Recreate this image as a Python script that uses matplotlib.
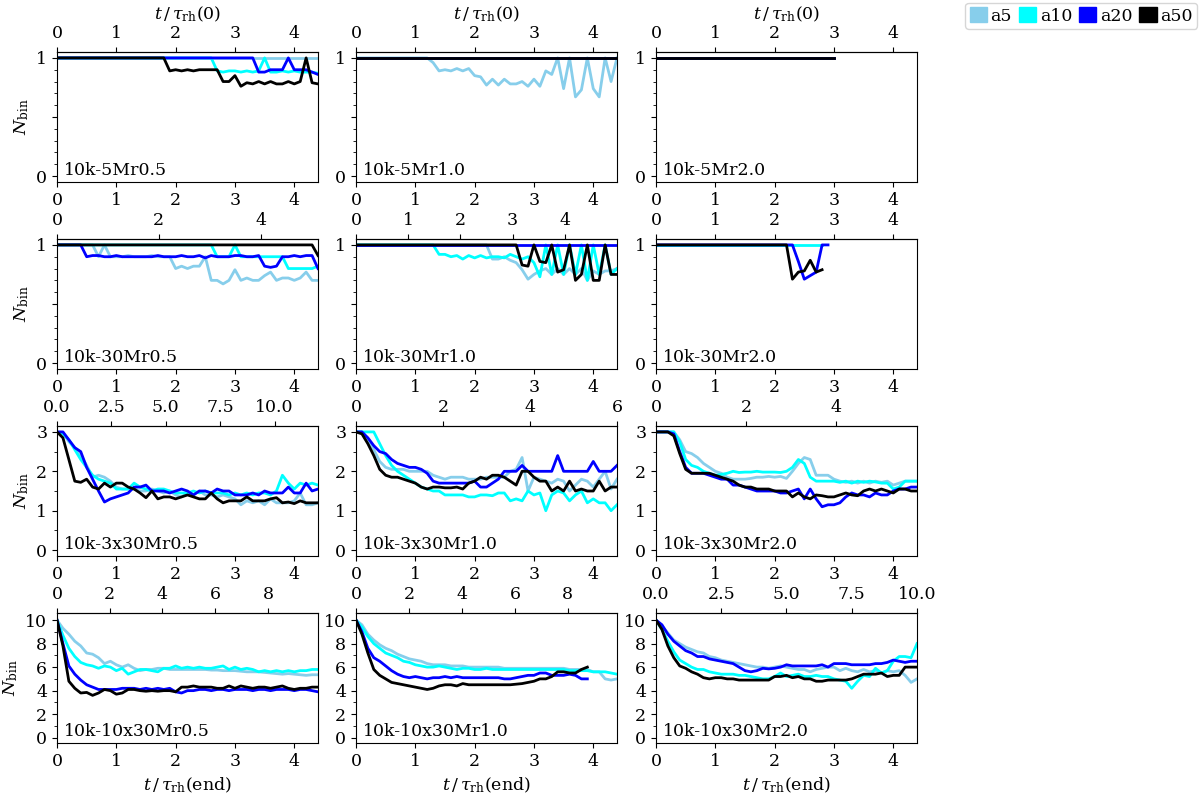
import numpy as np
import matplotlib
matplotlib.use('Agg')
import matplotlib.pyplot as plt
from matplotlib.patches import Patch
from matplotlib.ticker import MultipleLocator

plt.rcParams['font.family'] = ['DejaVu Serif']
plt.rcParams['mathtext.fontset'] = 'dejavuserif'
plt.rcParams['font.size'] = 12.5

# time grid in units of t/tau_rh(end), one sample every 0.1
T = np.round(np.arange(0, 4.45, 0.1), 2)

labels = ['a5', 'a10', 'a20', 'a50']
colors = ['#87ceeb', '#00ffff', '#0000ff', '#000000']

names = [['10k-5Mr0.5', '10k-5Mr1.0', '10k-5Mr2.0'],
         ['10k-30Mr0.5', '10k-30Mr1.0', '10k-30Mr2.0'],
         ['10k-3x30Mr0.5', '10k-3x30Mr1.0', '10k-3x30Mr2.0'],
         ['10k-10x30Mr0.5', '10k-10x30Mr1.0', '10k-10x30Mr2.0']]

# top axis: t/tau_rh(0) = factor * t/tau_rh(end)
top_factor = [[1.0, 1.0, 1.0],
              [1.165, 1.136, 1.0],
              [2.727, 1.364, 1.32],
              [2.25, 2.24, 2.273]]
top_ticks = [[[0, 1, 2, 3, 4], [0, 1, 2, 3, 4], [0, 1, 2, 3, 4]],
             [[0, 2, 4], [0, 1, 2, 3, 4], [0, 1, 2, 3, 4]],
             [[0, 2.5, 5.0, 7.5, 10.0], [0, 2, 4, 6], [0, 2, 4]],
             [[0, 2, 4, 6, 8], [0, 2, 4, 6, 8], [0, 2.5, 5.0, 7.5, 10.0]]]

# ---- row 1: 10k-5M
r1c1_a5 = [1.0] * 45
r1c1_a10 = [1.0] * 27 + [0.89, 0.88, 0.89, 0.89, 0.88, 0.89, 0.88, 0.89, 1.0, 0.88,
                         0.88, 0.89, 0.88, 0.89, 0.88, 0.88, 0.88, 0.87]
r1c1_a20 = [1.0] * 34 + [0.88, 0.88, 0.9, 0.9, 0.9, 1.0, 0.9, 0.9, 0.9, 0.88, 0.86]
r1c1_a50 = [1.0] * 19 + [0.89, 0.9, 0.89, 0.9, 0.89, 0.9, 0.9, 0.9, 0.9,
                         0.8, 0.8, 0.85, 0.76, 0.79, 0.78, 0.8, 0.78, 0.8, 0.78,
                         0.78, 0.8, 0.78, 0.8, 1.0, 0.79, 0.78]

r1c2_a5 = [1.0] * 13 + [0.96, 0.89, 0.9, 0.89, 0.91, 0.89, 0.91, 0.85, 0.84, 0.77,
                        0.82, 0.77, 0.82, 0.78, 0.78, 0.8, 0.76, 0.82, 0.76, 0.89,
                        0.86, 1.0, 0.74, 1.0, 0.67, 0.73, 1.0, 0.74, 0.67, 1.0,
                        0.8, 1.0]
r1c2_a10 = [1.0] * 45
r1c2_a20 = [1.0] * 45
r1c2_a50 = [1.0] * 45

r1c3_a5 = [1.0] * 31
r1c3_a10 = [1.0] * 31
r1c3_a20 = [1.0] * 31
r1c3_a50 = [1.0] * 31

# ---- row 2: 10k-30M
r2c1_a5 = [1.0] * 7 + [0.9, 1.0, 0.9, 0.9, 0.9, 0.91, 0.9, 0.9, 0.9, 0.91, 0.9, 0.9, 0.9,
                       0.8, 0.82, 0.8, 0.82, 0.82, 0.9, 0.7, 0.7, 0.67, 0.7, 0.79, 0.7,
                       0.72, 0.7, 0.7, 0.74, 0.77, 0.7, 0.72, 0.72, 0.7, 0.72, 0.77, 0.7, 0.7]
r2c1_a10 = [1.0] * 27 + [0.9, 0.9, 0.9, 1.0, 0.9, 0.9, 0.9, 0.9, 0.9, 0.9, 0.9, 0.9,
                         0.8, 0.8, 0.8, 0.8, 0.8, 0.82]
r2c1_a20 = [1.0] * 5 + [0.9, 0.91, 0.91, 0.9, 0.9, 0.91, 0.9, 0.9, 0.9, 0.9, 0.9, 0.9,
                        0.91, 0.9, 0.9, 0.9, 0.91, 0.9, 0.9, 0.91, 0.89, 0.91, 0.9, 0.9,
                        0.9, 0.91, 0.91, 0.9, 0.9, 0.91,
                        0.82, 0.81, 0.82, 0.9, 0.9, 0.91, 0.9, 0.91, 0.91, 0.8]
r2c1_a50 = [1.0] * 44 + [0.91]

r2c2_a5 = [1.0] * 23 + [0.88, 0.88, 0.9, 0.87, 0.85, 0.79, 0.71, 0.75, 0.78, 0.8, 0.75,
                        0.8, 0.75, 0.8, 0.75, 0.8, 0.7, 0.78, 0.75, 0.78, 0.78, 0.8]
r2c2_a10 = [1.0] * 14 + [0.92, 0.92, 0.9, 0.91, 0.88, 0.91, 0.89, 0.91, 0.89, 0.9, 0.9,
                         0.89, 0.92, 0.9, 0.88, 0.9, 0.85,
                         0.73, 1.0, 0.75, 1.0, 0.75, 1.0, 0.75, 1.0, 0.7, 1.0, 0.75,
                         1.0, 0.75, 0.8]
r2c2_a20 = [1.0] * 45
r2c2_a50 = [1.0] * 28 + [0.83, 0.82, 1.0, 0.86, 0.85, 1.0, 0.77, 0.79, 1.0, 0.7, 0.75,
                         1.0, 0.7, 0.7, 1.0, 0.75, 0.75]

r2c3_a5 = [1.0] * 25
r2c3_a10 = [1.0] * 29
r2c3_a20 = [1.0] * 24 + [0.86, 0.71, 0.74, 0.77, 1.0, 1.0]
r2c3_a50 = [1.0] * 23 + [0.71, 0.77, 0.78, 0.87, 0.77, 0.79]

# ---- row 3: 10k-3x30M
r3c1_a5 = [3.0, 2.98, 2.75, 2.6, 2.4, 2.15, 1.85, 1.9, 1.85, 1.75, 1.6, 1.55, 1.55, 1.55,
           1.5, 1.5, 1.55, 1.5, 1.45, 1.5, 1.4, 1.35, 1.45, 1.4, 1.5, 1.4, 1.4, 1.35,
           1.4, 1.35, 1.3, 1.15, 1.25, 1.2, 1.25, 1.15, 1.3, 1.2, 1.2, 1.2, 1.25, 1.45,
           1.15, 1.15, 1.2]
r3c1_a10 = [3.0, 2.95, 2.8, 2.55, 2.3, 2.1, 1.9, 1.8, 1.75, 1.7, 1.55, 1.55, 1.55, 1.7,
            1.6, 1.55, 1.5, 1.55, 1.55, 1.5, 1.45, 1.45, 1.45, 1.5, 1.45, 1.5, 1.45,
            1.45, 1.45, 1.4, 1.45, 1.4, 1.45, 1.4, 1.45, 1.45, 1.4, 1.5, 1.9, 1.7, 1.55,
            1.7, 1.65, 1.7, 1.65]
r3c1_a20 = [3.0, 3.0, 2.8, 2.6, 2.5, 2.1, 1.8, 1.5, 1.22, 1.3, 1.35, 1.4, 1.45, 1.6, 1.6,
            1.65, 1.5, 1.5, 1.5, 1.45, 1.5, 1.55, 1.5, 1.4, 1.5, 1.5, 1.45, 1.55, 1.5,
            1.5, 1.4, 1.4, 1.4, 1.45, 1.4, 1.5, 1.45, 1.45, 1.45, 1.6, 1.45, 1.45, 1.7,
            1.5, 1.55]
r3c1_a50 = [3.0, 2.85, 2.3, 1.75, 1.72, 1.8, 1.6, 1.55, 1.7, 1.6, 1.7, 1.7, 1.6, 1.55,
            1.45, 1.33, 1.5, 1.3, 1.35, 1.35, 1.3, 1.35, 1.4, 1.35, 1.3, 1.3, 1.45, 1.3,
            1.2, 1.25, 1.25, 1.25, 1.35, 1.25, 1.25, 1.25, 1.3, 1.33, 1.2, 1.22, 1.18,
            1.25, 1.2, 1.2, 1.2]

r3c2_a5 = [3.0, 3.0, 2.8, 2.55, 2.25, 2.1, 2.05, 2.05, 2.05, 2.0, 2.0, 2.0, 2.0, 1.9, 1.85,
           1.8, 1.85, 1.85, 1.85, 1.8, 1.8, 1.8, 1.85, 1.85, 1.85, 1.85, 2.0, 2.05, 2.35,
           1.5, 1.85, 1.8, 1.75, 1.7, 1.8, 1.75, 1.5, 1.65, 1.8, 1.75, 1.6, 1.8, 2.0,
           1.55, 1.8]
r3c2_a10 = [3.0, 3.0, 3.0, 3.0, 2.7, 2.4, 2.15, 2.0, 1.9, 1.8, 1.7, 1.6, 1.55, 1.5, 1.5,
            1.4, 1.4, 1.4, 1.4, 1.35, 1.35, 1.4, 1.4, 1.38, 1.45, 1.45, 1.25, 1.3, 1.25,
            1.5, 1.4, 1.45, 1.0, 1.4, 1.5, 1.45, 1.25, 1.4, 1.5, 1.2, 1.3, 1.2, 1.2, 1.0,
            1.15]
r3c2_a20 = [3.0, 3.0, 2.85, 2.65, 2.5, 2.45, 2.3, 2.2, 2.15, 2.1, 2.1, 2.05, 1.95, 1.75,
            1.7, 1.7, 1.7, 1.7, 1.7, 1.7, 1.75, 1.6, 1.6, 1.7, 1.8, 2.0, 2.0, 2.0, 2.15,
            2.0, 2.0, 2.0, 2.0, 2.0, 2.4, 2.0, 2.0, 2.0, 2.0, 2.0, 2.25, 2.0, 2.0, 2.0,
            2.15]
r3c2_a50 = [3.0, 2.95, 2.7, 2.4, 2.05, 1.9, 1.85, 1.85, 1.8, 1.75, 1.7, 1.6, 1.55, 1.6,
            1.6, 1.58, 1.58, 1.6, 1.55, 1.7, 1.75, 1.85, 1.8, 1.9, 1.9, 1.85, 1.75, 1.65,
            2.0, 2.0, 1.85, 1.75, 1.75, 1.5, 1.6, 1.5, 1.75, 1.5, 1.55, 1.5, 1.5, 1.75,
            1.5, 1.6, 1.6]

r3c3_a5 = [3.0, 3.0, 3.0, 3.0, 2.8, 2.5, 2.45, 2.35, 2.2, 2.1, 2.0, 1.95, 1.85, 1.8, 1.8,
           1.8, 1.82, 1.85, 1.85, 1.87, 1.85, 1.87, 1.82, 2.0, 2.2, 2.35, 2.3, 1.9, 1.9,
           1.9, 1.8, 1.75, 1.72, 1.75, 1.7, 1.75, 1.7, 1.75, 1.72, 1.75, 1.65, 1.7, 1.75,
           1.75, 1.75]
r3c3_a10 = [3.0, 3.0, 3.0, 3.0, 2.75, 2.3, 2.15, 2.1, 2.0, 1.95, 1.9, 1.92, 1.95, 2.0,
            1.97, 1.98, 1.98, 2.0, 1.98, 1.98, 1.98, 1.97, 2.0, 2.1, 2.3, 2.2, 1.85, 1.75,
            1.75, 1.75, 1.75, 1.72, 1.75, 1.7, 1.75, 1.72, 1.75, 1.73, 1.7, 1.7, 1.55,
            1.6, 1.75, 1.75, 1.75]
r3c3_a20 = [3.0, 3.0, 3.0, 2.95, 2.5, 2.1, 1.95, 1.95, 1.95, 1.9, 1.85, 1.8, 1.8, 1.65,
            1.65, 1.6, 1.55, 1.5, 1.5, 1.5, 1.5, 1.45, 1.45, 1.5, 1.55, 1.3, 1.55, 1.3,
            1.1, 1.15, 1.15, 1.2, 1.35, 1.45, 1.4, 1.4, 1.35, 1.45, 1.4, 1.4, 1.5, 1.55,
            1.55, 1.6, 1.6]
r3c3_a50 = [3.0, 3.0, 3.0, 2.9, 2.45, 2.05, 1.95, 1.95, 1.95, 1.95, 1.9, 1.85, 1.8, 1.75,
            1.65, 1.6, 1.6, 1.55, 1.55, 1.55, 1.5, 1.5, 1.5, 1.35, 1.45, 1.35, 1.3, 1.4,
            1.38, 1.35, 1.35, 1.4, 1.45, 1.4, 1.38, 1.5, 1.55, 1.5, 1.55, 1.5, 1.45, 1.55,
            1.55, 1.5, 1.5]

# ---- row 4: 10k-10x30M
r4c1_a5 = [10, 9.3, 8.8, 8.2, 7.8, 7.2, 7.1, 6.8, 6.3, 6.5, 6.2, 6.0, 6.2, 5.9, 5.7, 5.8,
           5.8, 5.9, 5.9, 5.8, 5.8, 5.8, 5.8, 5.8, 5.8, 5.8, 5.75, 5.75, 5.7, 5.7, 5.7,
           5.65, 5.6, 5.6, 5.6, 5.55, 5.5, 5.45, 5.4, 5.45, 5.4, 5.35, 5.3, 5.35, 5.35]
r4c1_a10 = [10, 8.7, 7.6, 6.9, 6.4, 6.2, 6.1, 5.9, 6.1, 6.0, 5.7, 5.9, 5.4, 5.6, 5.8, 5.8,
            5.7, 5.6, 5.9, 5.9, 6.1, 5.9, 6.0, 5.9, 6.0, 5.9, 5.9, 6.0, 6.1, 5.8, 6.0,
            5.8, 5.9, 5.8, 5.6, 5.7, 5.6, 5.7, 5.6, 5.7, 5.6, 5.7, 5.7, 5.8, 5.8]
r4c1_a20 = [10, 8.0, 6.1, 5.4, 4.9, 4.5, 4.3, 4.1, 4.1, 4.1, 4.1, 4.2, 4.2, 4.2, 4.1, 4.2,
            4.1, 4.2, 4.1, 4.2, 3.9, 3.8, 4.0, 4.0, 4.1, 4.1, 4.0, 4.1, 4.1, 4.0, 4.1,
            4.1, 4.1, 4.0, 4.1, 4.1, 4.0, 4.1, 4.1, 4.1, 4.0, 4.1, 4.1, 4.0, 3.9]
r4c1_a50 = [10, 7.8, 4.8, 4.2, 3.8, 3.85, 3.6, 3.8, 4.1, 4.0, 3.7, 3.8, 4.1, 4.1, 4.0,
            3.95, 4.0, 3.95, 4.0, 4.0, 3.9, 4.3, 4.3, 4.4, 4.3, 4.3, 4.3, 4.2, 4.2, 4.4,
            4.2, 4.4, 4.3, 4.2, 4.3, 4.3, 4.2, 4.3, 4.4, 4.2, 4.1, 4.2, 4.2, 4.3, 4.3]

r4c2_a5 = [10, 9.6, 8.8, 8.3, 7.9, 7.6, 7.4, 7.1, 6.9, 6.7, 6.6, 6.5, 6.3, 6.2, 6.2, 6.2,
           6.1, 6.1, 6.1, 6.0, 6.0, 6.0, 6.0, 6.0, 6.0, 5.9, 5.9, 5.9, 5.9, 5.9, 5.9,
           5.9, 5.9, 5.9, 5.9, 5.9, 5.8, 5.8, 5.8, 5.8, 5.6, 5.6, 5.0, 4.9, 5.0]
r4c2_a10 = [10, 9.4, 8.6, 8.0, 7.6, 7.2, 7.0, 6.8, 6.5, 6.4, 6.2, 6.1, 6.0, 6.0, 6.1, 6.0,
            5.9, 5.8, 5.9, 5.9, 5.8, 5.8, 5.9, 5.8, 5.8, 5.8, 5.8, 5.8, 5.8, 5.8, 5.8,
            5.8, 5.8, 5.8, 5.8, 5.8, 5.7, 5.7, 5.7, 5.7, 5.6, 5.6, 5.6, 5.5, 5.4]
r4c2_a20 = [10, 9.0, 7.6, 6.8, 6.5, 6.1, 5.7, 5.4, 5.2, 5.1, 5.2, 5.1, 5.0, 5.1, 5.1, 5.2,
            5.1, 5.2, 5.1, 5.1, 5.1, 5.1, 5.1, 5.1, 5.1, 5.0, 5.0, 5.1, 5.2, 5.3, 5.3,
            5.5, 5.5, 5.3, 5.3, 5.3, 5.4, 5.3, 5.0, 5.0]
r4c2_a50 = [10, 8.8, 7.2, 5.8, 5.3, 5.0, 4.7, 4.6, 4.5, 4.4, 4.3, 4.2, 4.1, 4.2, 4.4, 4.5,
            4.5, 4.4, 4.6, 4.5, 4.5, 4.5, 4.5, 4.5, 4.5, 4.5, 4.5, 4.55, 4.6, 4.7, 4.8,
            5.0, 5.0, 5.2, 5.6, 5.6, 5.5, 5.5, 5.8, 6.0]

r4c3_a5 = [10, 9.5, 8.9, 8.3, 8.0, 7.7, 7.5, 7.3, 7.2, 6.9, 6.8, 6.6, 6.5, 6.4, 6.3, 6.2,
           6.1, 6.0, 6.0, 5.9, 6.0, 6.1, 6.0, 5.9, 5.8, 5.8, 5.6, 5.8, 5.9, 6.0, 6.0,
           5.7, 5.9, 5.7, 5.6, 5.8, 5.6, 5.7, 5.5, 5.7, 5.6, 5.7, 5.3, 4.7, 5.0]
r4c3_a10 = [10, 9.2, 8.2, 7.3, 6.6, 6.3, 6.0, 5.8, 5.8, 5.6, 5.5, 5.4, 5.4, 5.4, 5.3, 5.3,
            5.2, 5.1, 5.0, 5.0, 5.2, 5.5, 5.2, 5.3, 5.4, 5.2, 5.2, 5.3, 5.2, 5.2, 5.0,
            4.9, 4.8, 4.2, 4.8, 5.3, 5.2, 5.9, 5.5, 5.7, 6.5, 6.9, 6.9, 6.8, 8.0]
r4c3_a20 = [10, 9.6, 8.8, 8.2, 7.8, 7.4, 7.2, 6.9, 6.9, 6.7, 6.6, 6.5, 6.4, 6.3, 6.0, 5.7,
            5.6, 5.7, 5.9, 5.85, 5.9, 6.0, 6.2, 6.1, 6.1, 6.1, 6.1, 6.1, 6.2, 6.0, 6.3,
            6.3, 6.3, 6.2, 6.2, 6.2, 6.2, 6.3, 6.3, 6.4, 6.6, 6.5, 6.4, 6.5, 6.5]
r4c3_a50 = [10, 9.2, 7.8, 6.8, 6.1, 5.9, 5.6, 5.4, 5.1, 5.0, 5.1, 5.1, 5.0, 5.0, 4.9, 4.9,
            4.9, 4.9, 4.9, 4.9, 5.2, 5.2, 5.3, 5.1, 5.2, 5.0, 5.0, 4.8, 4.8, 4.9, 4.9,
            4.9, 4.9, 5.0, 5.2, 5.4, 5.4, 5.4, 5.5, 5.2, 5.3, 5.3, 6.0, 6.0, 6.0]

series = [
    [[r1c1_a5, r1c1_a10, r1c1_a20, r1c1_a50],
     [r1c2_a5, r1c2_a10, r1c2_a20, r1c2_a50],
     [r1c3_a5, r1c3_a10, r1c3_a20, r1c3_a50]],
    [[r2c1_a5, r2c1_a10, r2c1_a20, r2c1_a50],
     [r2c2_a5, r2c2_a10, r2c2_a20, r2c2_a50],
     [r2c3_a5, r2c3_a10, r2c3_a20, r2c3_a50]],
    [[r3c1_a5, r3c1_a10, r3c1_a20, r3c1_a50],
     [r3c2_a5, r3c2_a10, r3c2_a20, r3c2_a50],
     [r3c3_a5, r3c3_a10, r3c3_a20, r3c3_a50]],
    [[r4c1_a5, r4c1_a10, r4c1_a20, r4c1_a50],
     [r4c2_a5, r4c2_a10, r4c2_a20, r4c2_a50],
     [r4c3_a5, r4c3_a10, r4c3_a20, r4c3_a50]],
]

fig = plt.figure(figsize=(12, 7.95), dpi=100)
W, H = 1200.0, 795.0
col_left = [57, 356, 656]
row_top = [52, 239, 426, 613]
aw, ah = 261, 130

for i in range(4):
    for j in range(3):
        ax = fig.add_axes([col_left[j] / W, 1 - (row_top[i] + ah) / H, aw / W, ah / H])
        for y, c in zip(series[i][j], colors):
            ax.plot(T[:len(y)], y, color=c, lw=2)
        ax.set_xlim(0, 4.4)
        ax.set_xticks([0, 1, 2, 3, 4])
        if i < 2:
            ax.set_ylim(-0.05, 1.05)
            ax.set_yticks([0, 0.5, 1])
            ax.set_yticklabels(['0', '', '1'])
            ax.yaxis.set_minor_locator(MultipleLocator(0.1))
        elif i == 2:
            ax.set_ylim(-0.15, 3.15)
            ax.set_yticks([0, 1, 2, 3])
            ax.yaxis.set_minor_locator(MultipleLocator(0.5))
        else:
            ax.set_ylim(-0.45, 10.6)
            ax.set_yticks([0, 2, 4, 6, 8, 10])
            ax.yaxis.set_minor_locator(MultipleLocator(1))
        ax.tick_params(labelsize=12.5)
        ax.text(0.025, 0.025, names[i][j], transform=ax.transAxes,
                ha='left', va='bottom', fontsize=12.5)
        if j == 0:
            ax.set_ylabel(r'$N_{\rm bin}$', fontsize=12.5)
        if i == 3:
            ax.set_xlabel(r'$t\,/\,\tau_{\rm rh}(\mathrm{end})$', fontsize=12.5)
        f = top_factor[i][j]
        sec = ax.secondary_xaxis('top', functions=(lambda x, f=f: x * f,
                                                   lambda x, f=f: x / f))
        sec.set_xticks(top_ticks[i][j])
        sec.tick_params(labelsize=12.5)
        if i == 0:
            sec.set_xlabel(r'$t\,/\,\tau_{\rm rh}(0)$', fontsize=12.5)

handles = [Patch(facecolor=c, edgecolor=c, label=l) for c, l in zip(colors, labels)]
fig.legend(handles=handles, loc='upper right', bbox_to_anchor=(0.999, 0.999),
           ncol=4, fontsize=12.5, handlelength=1.0, handleheight=1.0,
           handletextpad=0.2, columnspacing=0.4, borderpad=0.25, borderaxespad=0.1)

fig.savefig('out.png', dpi=100)
